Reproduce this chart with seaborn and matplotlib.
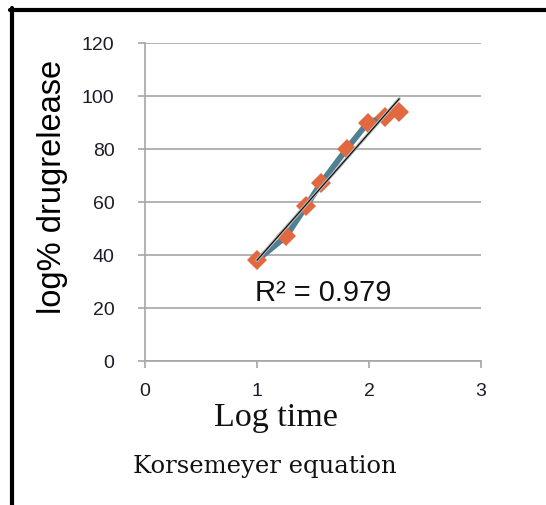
import numpy as np
import pandas as pd
import matplotlib
matplotlib.use("Agg")
import matplotlib.pyplot as plt
from matplotlib.lines import Line2D
import seaborn as sns

# Korsmeyer-Peppas data: log time vs log % drug release
log_time = [1.00, 1.26, 1.44, 1.57, 1.80, 1.99, 2.14, 2.27]
log_release = [38.0, 47.0, 58.5, 67.0, 80.0, 90.0, 92.0, 94.0]
r_squared_label = "R\u00b2 = 0.979"
x_ticks = [0, 1, 2, 3]
y_ticks = [0, 20, 40, 60, 80, 100, 120]

df = pd.DataFrame({"log_time": log_time, "log_release": log_release})

sns.set_theme(style="white")
plt.rcParams["font.family"] = ["Liberation Sans", "DejaVu Sans"]

W, H = 546, 506
fig = plt.figure(figsize=(W / 100, H / 100), dpi=100)
ax = fig.add_axes([145 / W, 1 - 362 / H, (481 - 145) / W, (362 - 44) / H])

grid_col = "#a6a6a6"

# measured series
sns.lineplot(data=df, x="log_time", y="log_release", ax=ax, color="#527f91",
             linewidth=4.2, marker="D", markersize=10, markeredgewidth=0,
             markerfacecolor="#e2683f", zorder=3)

# linear trendline
sns.regplot(data=df, x="log_time", y="log_release", ax=ax, scatter=False, ci=None,
            truncate=True, line_kws=dict(color="#bdbdbd", linewidth=2.4, zorder=4))
sns.regplot(data=df, x="log_time", y="log_release", ax=ax, scatter=False, ci=None,
            truncate=True, line_kws=dict(color="#111111", linewidth=0.9, zorder=5))

ax.set_xlim(0, 3)
ax.set_ylim(0, 120)
ax.set_xticks(x_ticks)
ax.set_yticks(y_ticks)
ax.set_xlabel("")
ax.set_ylabel("")

ax.yaxis.grid(True, color=grid_col, linewidth=1.2)
ax.xaxis.grid(False)
ax.set_axisbelow(True)
for side in ("top", "right"):
    ax.spines[side].set_visible(False)
for side in ("left", "bottom"):
    ax.spines[side].set_color(grid_col)
    ax.spines[side].set_linewidth(1.2)

ax.tick_params(axis="y", which="major", left=True, length=5, width=1.2,
               color=grid_col, pad=17, labelsize=14, labelcolor="#1e1a2a")
ax.tick_params(axis="x", which="major", bottom=True, length=5, width=1.2,
               color=grid_col, pad=10, labelsize=14, labelcolor="#1e1a2a")

ax.text(0.98, 26, r_squared_label, fontsize=21, color="#111111",
        ha="left", va="center")

fig.text(53 / W, 1 - 187 / H, "log% drugrelease", rotation=90, fontsize=23.5,
         color="black", ha="center", va="center")
fig.text(276 / W, 1 - 418 / H, "Log time", fontsize=24.5, color="#111111",
         family=["Liberation Serif", "DejaVu Serif"], ha="center", va="center")
fig.text(265 / W, 1 - 467 / H, "Korsemeyer equation", fontsize=17.5, color="#111111",
         family=["DejaVu Serif"], ha="center", va="center")

# frame around the figure panel
fig.add_artist(Line2D([12 / W, 12 / W], [0, 1 - 9 / H], color="black",
                      linewidth=3, transform=fig.transFigure))
fig.add_artist(Line2D([10 / W, 1], [1 - 11 / H, 1 - 11 / H], color="black",
                      linewidth=3, transform=fig.transFigure))

fig.savefig("out.png", dpi=100)
